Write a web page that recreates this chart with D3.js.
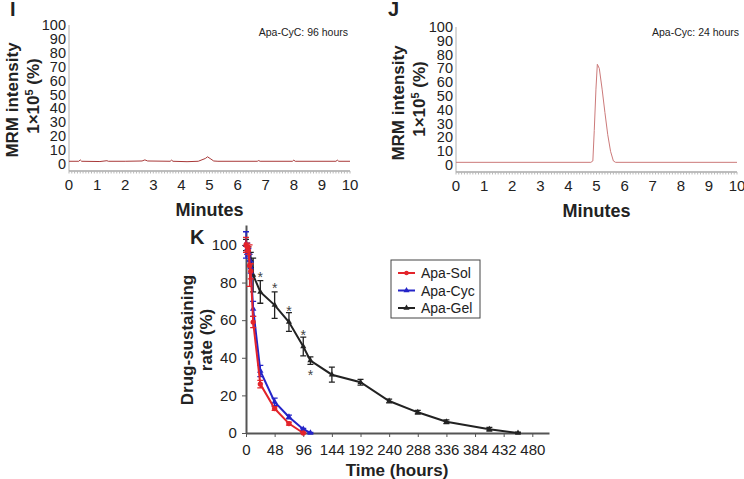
<!DOCTYPE html>
<html>
<head>
<meta charset="utf-8">
<script src="https://cdn.jsdelivr.net/npm/d3@7"></script>
<style>
  body { margin: 0; background: #fff; }
  svg { font-family: "Liberation Sans", Arial, sans-serif; }
</style>
</head>
<body>
<script>
// panel I: Apa-CyC 96 hours chromatogram (minute, intensity)
const traceI = [
  [0, 2], [0.35, 2], [0.4, 3], [0.45, 2], [1.1, 1.8], [1.35, 2.4], [1.4, 2], [2.0, 2],
  [2.6, 2.2], [2.7, 3], [2.8, 2.2], [3.6, 2], [3.65, 2.8], [3.7, 2], [4.2, 1.7], [4.6, 2],
  [4.85, 4], [4.93, 5.2], [5.05, 3.6], [5.15, 2.2], [5.3, 2], [6.7, 2], [6.75, 2.5],
  [6.8, 2], [7.95, 2], [8.0, 2.8], [8.05, 2], [9.5, 2], [9.55, 2.8], [9.6, 2], [10, 2]
];
// panel J: Apa-Cyc 24 hours chromatogram
const traceJ = [
  [0, 2], [4.8, 2], [4.87, 3], [4.92, 25], [4.98, 55], [5.03, 73], [5.1, 70],
  [5.2, 55], [5.3, 38], [5.4, 22], [5.5, 10], [5.6, 3], [5.68, 2], [10, 2]
];
const labelI = "Apa-CyC: 96 hours";
const labelJ = "Apa-Cyc: 24 hours";
const minuteTicks = [0, 1, 2, 3, 4, 5, 6, 7, 8, 9, 10];
const intensityTicks = [0, 10, 20, 30, 40, 50, 60, 70, 80, 90, 100];

// panel K: drug-sustaining rate over time
const solTime = [0, 2, 4, 6, 8, 12, 24, 48, 72, 96];
const solRate = [100, 99, 97, 89, 86, 59, 26, 13, 5, 0];
const solErr  = [4, 2, 2, 11, 4, 3, 2, 1, 0.8, 0.3];
const cycTime = [0, 2, 4, 6, 8, 12, 24, 48, 72, 96, 108];
const cycRate = [100, 98, 96, 92, 88, 66, 33, 16.5, 8.5, 2, 0];
const cycErr  = [7, 3, 2, 3, 3, 4, 3, 2, 1, 0.5, 0.3];
const gelTime = [0, 4, 8, 12, 24, 48, 72, 96, 108, 144, 192, 240, 288, 336, 408, 456];
const gelRate = [100, 97, 92, 84, 75, 68, 59, 46, 38.5, 31, 27, 17, 11, 6, 2, 0];
const gelErr  = [3, 2, 4, 9, 6, 7, 5, 5, 2, 4, 1.5, 1, 1, 1, 1, 0.5];
const starTime = [24, 48, 72, 96, 108];
const starRate = [85, 79, 67, 54, 33];
const hourTicks = [0, 48, 96, 144, 192, 240, 288, 336, 384, 432, 480];
const rateTicks = [0, 20, 40, 60, 80, 100];
const seriesNames = ["Apa-Sol", "Apa-Cyc", "Apa-Gel"];
const seriesColors = ["#e3242b", "#2424c8", "#222222"];

const svg = d3.select("body").append("svg")
    .attr("width", 744)
    .attr("height", 479);

function chromatogram(trace, x0, x1, yTop, yAxis, letter, letterX, note, noteX, lineColor, titleX1, titleX2, titleY) {
  const x = d3.scaleLinear().domain([0, 10]).range([x0, x1]);
  const y = d3.scaleLinear().domain([-5, 100]).range([yAxis, yTop]);
  const g = svg.append("g");

  g.append("line").attr("x1", x0).attr("x2", x0).attr("y1", yTop).attr("y2", yAxis)
      .attr("stroke", "#b0b0b0").attr("stroke-width", 1);

  // x axis: thick gray line with fine minor ticks
  g.append("line").attr("x1", x0).attr("x2", x1).attr("y1", yAxis).attr("y2", yAxis)
      .attr("stroke", "#a8a8a8").attr("stroke-width", 1.5);
  g.selectAll(".minor").data(d3.range(0, 100.5, 1)).enter().append("line")
      .attr("x1", d => x(d / 10)).attr("x2", d => x(d / 10))
      .attr("y1", yAxis).attr("y2", yAxis + 2.5)
      .attr("stroke", "#b8b8b8").attr("stroke-width", 1);

  g.selectAll(".xl").data(minuteTicks).enter().append("text")
      .attr("x", d => x(d)).attr("y", yAxis + 19)
      .attr("text-anchor", "middle").attr("font-size", 15).attr("fill", "#222")
      .text(d => d);
  g.selectAll(".yl").data(intensityTicks).enter().append("text")
      .attr("x", x0 - 3).attr("y", d => y(d) + 5)
      .attr("text-anchor", "end").attr("font-size", 14.5).attr("fill", "#222")
      .text(d => d);

  g.append("path").datum(trace)
      .attr("d", d3.line().x(d => x(d[0])).y(d => y(d[1])))
      .attr("fill", "none").attr("stroke", lineColor).attr("stroke-width", 1);

  g.append("text").attr("x", noteX).attr("y", 36).attr("text-anchor", "end")
      .attr("font-size", 10.5).attr("fill", "#222").text(note);
  g.append("text").attr("x", letterX).attr("y", 16).attr("font-size", 20)
      .attr("font-weight", "bold").attr("fill", "#222").text(letter);
  g.append("text").attr("x", (x0 + x1) / 2).attr("y", yAxis + 45)
      .attr("text-anchor", "middle").attr("font-size", 18).attr("font-weight", "bold")
      .attr("fill", "#222").text("Minutes");

  g.append("text").attr("transform", `translate(${titleX1},${titleY}) rotate(-90)`)
      .attr("text-anchor", "middle").attr("font-size", 17).attr("font-weight", "bold")
      .attr("fill", "#222").text("MRM intensity");
  const t2 = g.append("text").attr("transform", `translate(${titleX2},${titleY - 4}) rotate(-90)`)
      .attr("text-anchor", "middle").attr("font-size", 17).attr("font-weight", "bold")
      .attr("fill", "#222");
  t2.append("tspan").text("1\u00d710");
  t2.append("tspan").attr("font-size", 11).attr("dy", -6).text("5");
  t2.append("tspan").attr("dy", 6).text(" (%)");
}

chromatogram(traceI, 69, 350, 25, 171, "I", 10, labelI, 348, "#a83838", 18, 39, 100);
chromatogram(traceJ, 456, 737, 27, 172, "J", 388, labelJ, 739, "#cc7a7a", 404, 425, 103);

// panel K
const xK = d3.scaleLinear().domain([0, 508]).range([246, 549]);
const yK = d3.scaleLinear().domain([0, 110.6]).range([433, 225]);
const gK = svg.append("g");

gK.append("g").attr("transform", "translate(0,433)")
    .call(d3.axisBottom(xK).tickValues(hourTicks).tickSize(4).tickSizeOuter(0))
    .call(a => a.select(".domain").attr("stroke", "#555").attr("stroke-width", 2))
    .call(a => a.selectAll(".tick line").attr("stroke", "#555"))
    .call(a => a.selectAll("text").attr("font-size", 15).attr("fill", "#222")
        .attr("font-family", "Liberation Sans, Arial, sans-serif").attr("dy", "1em"));
gK.append("g").attr("transform", "translate(246,0)")
    .call(d3.axisLeft(yK).tickValues(rateTicks).tickSize(4).tickSizeOuter(0))
    .call(a => a.select(".domain").attr("stroke", "#555").attr("stroke-width", 2))
    .call(a => a.selectAll(".tick line").attr("stroke", "#555"))
    .call(a => a.selectAll("text").attr("font-size", 15).attr("fill", "#222")
        .attr("font-family", "Liberation Sans, Arial, sans-serif").attr("dx", "-0.15em"));

const series = [
  { t: gelTime, v: gelRate, e: gelErr, c: seriesColors[2], shape: d3.symbolTriangle, size: 16 },
  { t: cycTime, v: cycRate, e: cycErr, c: seriesColors[1], shape: d3.symbolTriangle, size: 18 },
  { t: solTime, v: solRate, e: solErr, c: seriesColors[0], shape: d3.symbolCircle, size: 22 }
];

series.forEach(s => {
  const pts = s.t.map((t, i) => ({ t: t, v: s.v[i], e: s.e[i] }));
  const g = gK.append("g");
  g.selectAll(".eb").data(pts).enter().append("path")
      .attr("d", d => {
        const cx = xK(d.t), y1 = yK(d.v + d.e), y2 = yK(Math.max(0, d.v - d.e));
        return `M${cx - 3},${y1}H${cx + 3}M${cx},${y1}V${y2}M${cx - 3},${y2}H${cx + 3}`;
      })
      .attr("stroke", s.c).attr("stroke-width", 1.3).attr("fill", "none");
  g.append("path").datum(pts)
      .attr("d", d3.line().x(d => xK(d.t)).y(d => yK(d.v)))
      .attr("fill", "none").attr("stroke", s.c).attr("stroke-width", 2);
  g.selectAll(".pt").data(pts).enter().append("path")
      .attr("d", d3.symbol().type(s.shape).size(s.size))
      .attr("transform", d => `translate(${xK(d.t)},${yK(d.v)})`)
      .attr("fill", s.c);
});

gK.selectAll(".star").data(starTime).enter().append("text")
    .attr("x", d => xK(d)).attr("y", (d, i) => yK(starRate[i]) + 9)
    .attr("text-anchor", "middle").attr("font-size", 14).attr("fill", "#444")
    .text("*");

// legend
const leg = gK.append("g");
leg.append("rect").attr("x", 391).attr("y", 260).attr("width", 89).attr("height", 58)
    .attr("fill", "#fff").attr("stroke", "#444").attr("stroke-width", 1);
seriesNames.forEach((n, i) => {
  const ly = 273 + i * 17.5;
  leg.append("line").attr("x1", 398).attr("x2", 415).attr("y1", ly).attr("y2", ly)
      .attr("stroke", seriesColors[i]).attr("stroke-width", 2);
  leg.append("path")
      .attr("d", d3.symbol().type(i === 0 ? d3.symbolCircle : d3.symbolTriangle).size(16))
      .attr("transform", `translate(406.5,${ly})`).attr("fill", seriesColors[i]);
  leg.append("text").attr("x", 421).attr("y", ly + 5).attr("font-size", 14)
      .attr("fill", "#222").text(n);
});

gK.append("text").attr("x", 190).attr("y", 244).attr("font-size", 20)
    .attr("font-weight", "bold").attr("fill", "#222").text("K");
gK.append("text").attr("x", 397).attr("y", 476).attr("text-anchor", "middle")
    .attr("font-size", 17).attr("font-weight", "bold").attr("fill", "#222").text("Time (hours)");
gK.append("text").attr("transform", "translate(193,340) rotate(-90)")
    .attr("text-anchor", "middle").attr("font-size", 17).attr("font-weight", "bold")
    .attr("fill", "#222").text("Drug-sustaining");
gK.append("text").attr("transform", "translate(212,340) rotate(-90)")
    .attr("text-anchor", "middle").attr("font-size", 17).attr("font-weight", "bold")
    .attr("fill", "#222").text("rate (%)");
</script>
</body>
</html>
